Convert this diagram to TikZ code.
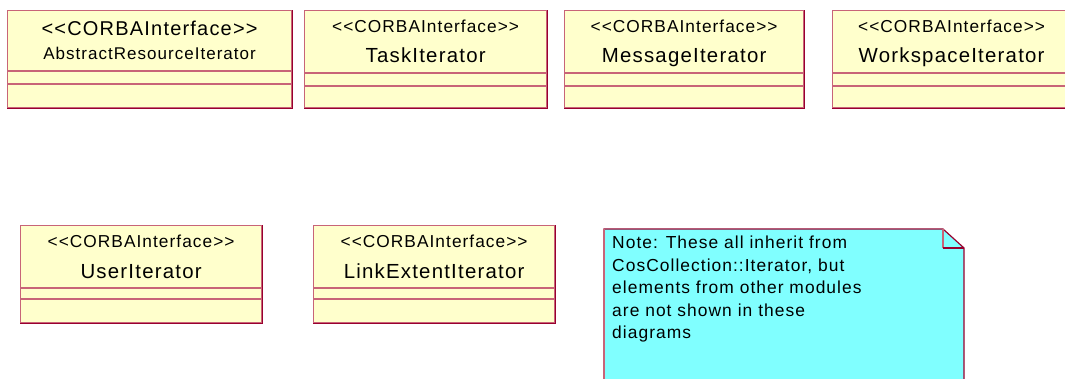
\documentclass[tikz,border=0pt]{standalone}
\usepackage{fontspec}
\setmainfont{Liberation Sans}[LetterSpace=6]
\usepackage{tikz}
\usetikzlibrary{positioning}
\definecolor{classfill}{HTML}{FFFFCC}
\definecolor{notefill}{HTML}{80FFFF}
\definecolor{edgelight}{HTML}{C86478}
\definecolor{edgedark}{HTML}{99002E}

\begin{document}
\begin{tikzpicture}[x=1pt, y=-1pt,
                umlclass/.style={draw=edgelight, line width=1.2pt, fill=classfill, rectangle, anchor=north west, minimum width=#1, minimum height=97pt, inner sep=0pt},
                stereo/.style={font=\fontsize{17.3}{20}\selectfont, anchor=base, inner sep=0pt},
                classname/.style={font=\fontsize{20.4}{24}\selectfont, anchor=base, inner sep=0pt},
                compart/.style={draw=edgelight, line width=1.2pt},
                darkedge/.style={draw=edgedark, line width=1.2pt},
                notetext/.style={font=\fontsize{17.4}{22.5}\selectfont, align=left, anchor=north west, inner sep=0pt}
            ]
            \useasboundingbox (0,0) rectangle (1065,379);
            \clip (0,0) rectangle (1065,379);

            % Klassen
            \node[umlclass=284pt] (absres) at (7,10) {};
            \node[umlclass=242pt] (task) at (304,10) {};
            \node[umlclass=239pt] (message) at (564,10) {};
            \node[umlclass=238pt] (workspace) at (832,10) {};
            \node[umlclass=241pt] (user) at (20,225) {};
            \node[umlclass=241pt] (linkext) at (313,225) {};

            % Abteilungen und Kanten
            \foreach \cls/\ya/\yb in {absres/61/74, task/63/76, message/63/76, workspace/63/76, user/63/74, linkext/63/74} {
                \draw[compart] ([yshift=-\ya pt]\cls.north west) -- ([yshift=-\ya pt]\cls.north east);
                \draw[compart] ([yshift=-\yb pt]\cls.north west) -- ([yshift=-\yb pt]\cls.north east);
                \draw[darkedge] (\cls.south west) -- (\cls.south east) -- (\cls.north east);
            }

            % Texte
            \node[stereo, font=\fontsize{20}{23}\selectfont] (absres-st) at ([yshift=-26pt]absres.north) {<{}<CORBAInterface>{}>};
            \node[classname, font=\fontsize{17}{20}\selectfont] (absres-nm) at ([yshift=-50pt]absres.north) {AbstractResourceIterator};
            \node[stereo] (task-st) at ([yshift=-23pt]task.north) {<{}<CORBAInterface>{}>};
            \node[classname] (task-nm) at ([yshift=-53pt]task.north) {TaskIterator};
            \node[stereo] (message-st) at ([yshift=-23pt]message.north) {<{}<CORBAInterface>{}>};
            \node[classname] (message-nm) at ([yshift=-53pt]message.north) {MessageIterator};
            \node[stereo] (workspace-st) at ([yshift=-23pt]workspace.north) {<{}<CORBAInterface>{}>};
            \node[classname] (workspace-nm) at ([yshift=-53pt]workspace.north) {WorkspaceIterator};
            \node[stereo] (user-st) at ([yshift=-23pt]user.north) {<{}<CORBAInterface>{}>};
            \node[classname] (user-nm) at ([yshift=-54pt]user.north) {UserIterator};
            \node[stereo] (linkext-st) at ([yshift=-23pt]linkext.north) {<{}<CORBAInterface>{}>};
            \node[classname] (linkext-nm) at ([yshift=-54pt]linkext.north) {LinkExtentIterator};

            % Notiz
            \draw[darkedge, fill=notefill] (604,229) -- (943,229) -- (964,248) -- (964,400) -- (604,400) -- cycle;
            \draw[compart] (604,400) -- (604,229);
            \draw[compart] (943,229) -- (943,248);
            \draw[darkedge] (943,248) -- (964,248);
            \node[notetext] (note) at (612,236) {Note: These all inherit from\\CosCollection::Iterator, but\\elements from other modules\\are not shown in these\\diagrams};

        \end{tikzpicture}
\end{document}
